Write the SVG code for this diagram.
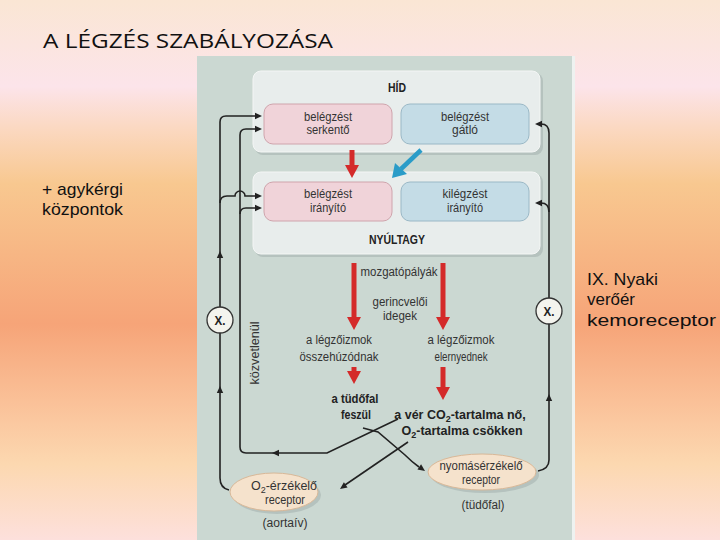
<svg xmlns="http://www.w3.org/2000/svg" width="720" height="540" viewBox="0 0 720 540">
<defs>
<linearGradient id="bg" x1="0" y1="0" x2="0" y2="1">
<stop offset="0" stop-color="#fae6d4"/>
<stop offset="0.16" stop-color="#fce4ea"/>
<stop offset="0.24" stop-color="#fbd8c0"/>
<stop offset="0.34" stop-color="#f8c890"/>
<stop offset="0.6" stop-color="#f6a478"/>
<stop offset="0.78" stop-color="#fbc8a0"/>
<stop offset="0.86" stop-color="#fcd8b0"/>
<stop offset="1" stop-color="#fde0dc"/>
</linearGradient>
<path id="ah" d="M0,0 L-7,-3.2 L-7,3.2 Z" fill="#222"/>
<path id="rh" d="M0,0 L-13,-7 L-13,7 Z" fill="#d42a2a"/>
<style>
.t{font-family:"Liberation Sans",Arial,sans-serif;fill:#333;font-size:12.5px;text-anchor:middle}
.sub{font-size:9px}
.b{font-weight:bold;fill:#222}
.side{font-family:"Liberation Sans",Arial,sans-serif;fill:#111;font-size:17px}
.ln{fill:none;stroke:#222;stroke-width:1.6}
.red{stroke:#d42a2a;stroke-width:5;fill:none}
.big{fill:#e8edec;stroke:#f4f6f5;stroke-width:1}
.shd{fill:#b5c2be}
.pink{fill:#f0d3d9;stroke:#cfa4ac;stroke-width:1}
.blue{fill:#c4dce6;stroke:#9ab8c6;stroke-width:1}
.ell{fill:#f5e2cc;stroke:#d8b898;stroke-width:1}
.xc{fill:#f4f4ee;stroke:#333;stroke-width:1.3}
</style>
</defs>
<rect width="720" height="540" fill="url(#bg)"/>
<text x="43" y="48" font-family="'Open Sans','Liberation Sans',sans-serif" font-size="20" fill="#111" textLength="290" lengthAdjust="spacingAndGlyphs">A LÉGZÉS SZABÁLYOZÁSA</text>
<text class="side" x="42" y="195" textLength="81" lengthAdjust="spacingAndGlyphs">+ agykérgi</text>
<text class="side" x="42" y="215" textLength="81" lengthAdjust="spacingAndGlyphs">központok</text>
<text class="side" x="587" y="285" textLength="71" lengthAdjust="spacingAndGlyphs">IX. Nyaki</text>
<text class="side" x="587" y="305" textLength="48" lengthAdjust="spacingAndGlyphs">verőér</text>
<text class="side" x="587" y="326" textLength="129" lengthAdjust="spacingAndGlyphs">kemoreceptor</text>

<rect x="197" y="56" width="375" height="484" fill="#cbd8d2"/>
<rect x="572" y="56" width="3" height="484" fill="#eef2f0"/>

<g id="hid">
<rect class="shd" x="255" y="73" width="288" height="82" rx="8"/>
<rect class="big" x="253" y="71" width="287" height="81" rx="8"/>
<text class="t b" x="397" y="92" textLength="18" lengthAdjust="spacingAndGlyphs">HÍD</text>
</g>
<g id="serkento">
<rect class="pink" x="264" y="104" width="128" height="40" rx="9"/>
<text class="t" x="328" y="121" textLength="48" lengthAdjust="spacingAndGlyphs">belégzést</text>
<text class="t" x="328" y="134" textLength="43" lengthAdjust="spacingAndGlyphs">serkentő</text>
</g>
<g id="gatlo">
<rect class="blue" x="401" y="104" width="128" height="40" rx="9"/>
<text class="t" x="465" y="121" textLength="48" lengthAdjust="spacingAndGlyphs">belégzést</text>
<text class="t" x="465" y="134" textLength="26" lengthAdjust="spacingAndGlyphs">gátló</text>
</g>
<g id="nyultagy">
<rect class="shd" x="255" y="174" width="288" height="83" rx="8"/>
<rect class="big" x="253" y="172" width="287" height="82" rx="8"/>
<text class="t b" x="397" y="244" textLength="56" lengthAdjust="spacingAndGlyphs">NYÚLTAGY</text>
</g>
<g id="belegzes-iranyito">
<rect class="pink" x="264" y="182" width="128" height="39" rx="9"/>
<text class="t" x="328" y="198" textLength="48" lengthAdjust="spacingAndGlyphs">belégzést</text>
<text class="t" x="328" y="212" textLength="36" lengthAdjust="spacingAndGlyphs">irányító</text>
</g>
<g id="kilegzes-iranyito">
<rect class="blue" x="401" y="182" width="128" height="39" rx="9"/>
<text class="t" x="465" y="198" textLength="45" lengthAdjust="spacingAndGlyphs">kilégzést</text>
<text class="t" x="465" y="212" textLength="36" lengthAdjust="spacingAndGlyphs">irányító</text>
</g>
<g id="labels">
<text class="t" x="399" y="276" textLength="77" lengthAdjust="spacingAndGlyphs">mozgatópályák</text>
<text class="t" x="400" y="306" textLength="55" lengthAdjust="spacingAndGlyphs">gerincvelői</text>
<text class="t" x="400" y="320" textLength="34" lengthAdjust="spacingAndGlyphs">idegek</text>
<text class="t" x="339" y="344" textLength="66" lengthAdjust="spacingAndGlyphs">a légzőizmok</text>
<text class="t" x="339" y="361" textLength="79" lengthAdjust="spacingAndGlyphs">összehúzódnak</text>
<text class="t" x="461" y="344" textLength="67" lengthAdjust="spacingAndGlyphs">a légzőizmok</text>
<text class="t" x="461" y="361" textLength="53" lengthAdjust="spacingAndGlyphs">elernyednek</text>
<text class="t b" x="355" y="403" textLength="47" lengthAdjust="spacingAndGlyphs">a tüdőfal</text>
<text class="t b" x="356" y="419" textLength="30" lengthAdjust="spacingAndGlyphs">feszül</text>
<text class="t b" x="460" y="419" font-size="12">a vér CO<tspan class="sub" dy="3">2</tspan><tspan dy="-3">-tartalma nő,</tspan></text>
<text class="t b" x="462" y="435" font-size="11.5">O<tspan class="sub" dy="3">2</tspan><tspan dy="-3">-tartalma csökken</tspan></text>
<text class="t" transform="translate(259,353) rotate(-90)" textLength="63" lengthAdjust="spacingAndGlyphs">közvetlenül</text>
</g>
<g id="o2-receptor">
<ellipse class="shd" cx="277" cy="495" rx="44" ry="19"/>
<ellipse class="ell" cx="274" cy="492" rx="44" ry="19"/>
<text class="t" x="284" y="490" font-size="12">O<tspan class="sub" dy="3">2</tspan><tspan dy="-3">-érzékelő</tspan></text>
<text class="t" x="285" y="504" textLength="40" lengthAdjust="spacingAndGlyphs">receptor</text>
<text class="t" x="285" y="527" textLength="45" lengthAdjust="spacingAndGlyphs">(aortaív)</text>
</g>
<g id="nyomas-receptor">
<ellipse class="shd" cx="485" cy="475" rx="54" ry="18"/>
<ellipse class="ell" cx="482" cy="472" rx="54" ry="18"/>
<text class="t" x="481" y="470" textLength="83" lengthAdjust="spacingAndGlyphs">nyomásérzékelő</text>
<text class="t" x="481" y="484" textLength="38" lengthAdjust="spacingAndGlyphs">receptor</text>
<text class="t" x="483" y="509" textLength="43" lengthAdjust="spacingAndGlyphs">(tüdőfal)</text>
</g>
<g id="connectors">
<path class="ln" d="M229,490 Q220,488 220,478 L220,122 Q220,116 226,116 L256,116"/>
<use href="#ah" transform="translate(262,116)"/>
<path class="ln" d="M398,419 L327,453 L246,453 Q240,453 240,447 L240,135 Q240,129 246,129 L256,129"/>
<use href="#ah" transform="translate(262,129)"/>
<use href="#ah" transform="translate(272,453) rotate(180)"/>
<path class="ln" d="M220,203 Q220,196 227,196 L235,196 A5,5 0 0 1 245,196 L256,196"/>
<use href="#ah" transform="translate(262,196)"/>
<path class="ln" d="M240,214 Q240,208 246,208 L256,208"/>
<use href="#ah" transform="translate(262,208)"/>
<use href="#ah" transform="translate(220,251) rotate(-90)"/>
<use href="#ah" transform="translate(220,386) rotate(-90)"/>
<path class="ln" d="M538,471 Q549,469 549,460 L549,133 Q549,124 541,124"/>
<use href="#ah" transform="translate(535,124) rotate(180)"/>
<path class="ln" d="M549,212 Q549,203 541,203"/>
<use href="#ah" transform="translate(535,203) rotate(180)"/>
<use href="#ah" transform="translate(549,394) rotate(-90)"/>
<path class="ln" d="M363,428 L378,432 L405,455 Q412,462 419,467"/>
<use href="#ah" transform="translate(425,471) rotate(35)"/>
<path class="ln" d="M408,442 L345,485"/>
<use href="#ah" transform="translate(340,489) rotate(145)"/>
<path class="red" d="M352,150 L352,166"/>
<use href="#rh" transform="translate(352,178) rotate(90)"/>
<path d="M421,150 L401,169" stroke="#2a9cc8" stroke-width="4.5" fill="none"/>
<path d="M392,178 L395,163 L407,174 Z" fill="#2a9cc8"/>
<path class="red" d="M354,263 L354,318"/>
<use href="#rh" transform="translate(354,330) rotate(90)"/>
<path class="red" d="M443,263 L443,318"/>
<use href="#rh" transform="translate(443,330) rotate(90)"/>
<path class="red" d="M354,367 L354,373"/>
<use href="#rh" transform="translate(354,384) rotate(90)"/>
<path class="red" d="M443,367 L443,389"/>
<use href="#rh" transform="translate(443,400) rotate(90)"/>
</g>
<g id="x-left">
<circle class="xc" cx="220" cy="320" r="13"/>
<text class="t b" x="220" y="325" font-size="13" textLength="11" lengthAdjust="spacingAndGlyphs">X.</text>
</g>
<g id="x-right">
<circle class="xc" cx="549" cy="311" r="13"/>
<text class="t b" x="549" y="316" font-size="13" textLength="11" lengthAdjust="spacingAndGlyphs">X.</text>
</g>
</svg>
